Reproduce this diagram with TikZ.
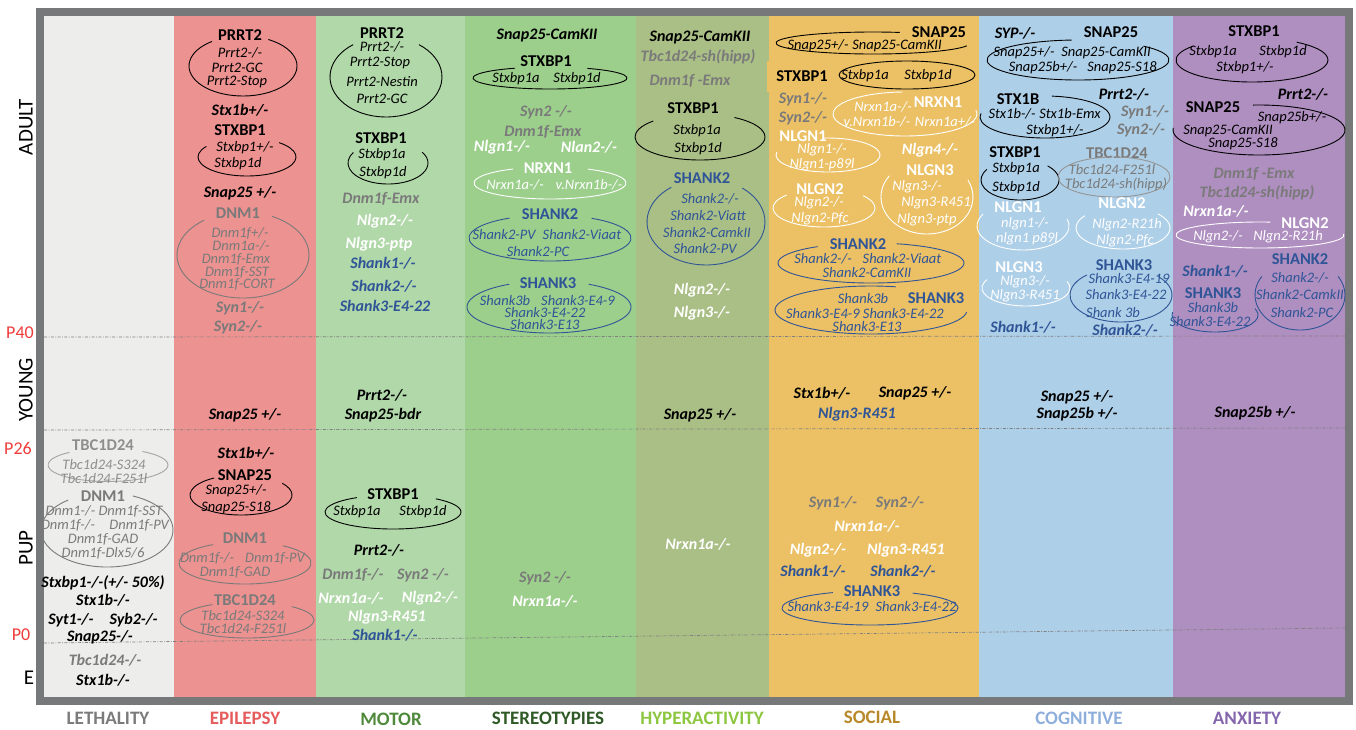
\documentclass[tikz,border=0pt]{standalone}
\usepackage{fontspec}
\setmainfont{Carlito}
\definecolor{framegray}{HTML}{77787A}
\definecolor{leth}{HTML}{EDEEEC}
\definecolor{epi}{HTML}{EC9290}
\definecolor{mot}{HTML}{B1D8A9}
\definecolor{ster}{HTML}{9CCF8C}
\definecolor{hyp}{HTML}{AABF86}
\definecolor{soc}{HTML}{ECC166}
\definecolor{cog}{HTML}{AECFE8}
\definecolor{anx}{HTML}{AF8EC0}
\definecolor{gtxt}{HTML}{7A7A7A}
\definecolor{ltxt}{HTML}{8E8E8E}
\definecolor{btxt}{HTML}{2F5597}
\definecolor{agered}{HTML}{EE3B3B}
\definecolor{lethc}{HTML}{7B7B7B}
\definecolor{epic}{HTML}{E65C5C}
\definecolor{motc}{HTML}{4F8A3C}
\definecolor{sterc}{HTML}{2F5A27}
\definecolor{hypc}{HTML}{8DC63F}
\definecolor{socc}{HTML}{B8892A}
\definecolor{cogc}{HTML}{8EAEDB}
\definecolor{anxc}{HTML}{8466AD}
\tikzset{
  gene/.style = {font=\fontsize{16}{18}\selectfont\bfseries\itshape, inner sep=0pt},
  prot/.style = {font=\fontsize{16.5}{18}\selectfont\bfseries, inner sep=0pt},
  item/.style = {font=\fontsize{14.5}{16}\selectfont\itshape, inner sep=0pt},
  ovl/.style = {line width=0.9pt},
  stage/.style = {dash pattern=on 3pt off 1.5pt on 0.8pt off 1.5pt, gray, line width=0.7pt},
  cat/.style = {font=\fontsize{19}{21}\selectfont\bfseries, inner sep=0pt},
  agelbl/.style = {font=\fontsize{21}{23}\selectfont, rotate=90, inner sep=0pt},
  pday/.style = {font=\fontsize{18}{20}\selectfont, text=agered, inner sep=0pt}
}
% open ellipse: [colour]{centre}{x radius}{y radius}{start}{end}
\newcommand\ovalarc[6][black]{%
  \draw[ovl,#1] (#2) ++(#5:#3 and #4) arc[start angle=#5, end angle=#6, x radius=#3, y radius=#4];}

\begin{document}
\begin{tikzpicture}[x=1pt,y=1pt]
  \useasboundingbox (0,0) rectangle (1356,-729);
  % columns
  \fill[leth] (44,-16) rectangle (174,-697);
  \fill[epi]  (174,-16) rectangle (316,-697);
  \fill[mot]  (316,-16) rectangle (465,-697);
  \fill[ster] (465,-16) rectangle (636,-697);
  \fill[hyp]  (636,-16) rectangle (769,-697);
  \fill[soc]  (769,-16) rectangle (979,-697);
  \fill[cog]  (979,-16) rectangle (1173,-697);
  \fill[anx]  (1173,-16) rectangle (1345,-697);
  % stages
  \draw[stage] (44,-337) -- (1345,-336);
  \draw[stage] (44,-430) -- (1345,-428);
  \draw[stage] (44,-643) -- (1345,-628);
  \draw[framegray, line width=8pt] (40,-12) rectangle (1349,-701);

  \node[agelbl] (adult) at (26,-127) {ADULT};
  \node[agelbl] (young) at (26,-390) {YOUNG};
  \node[agelbl] (pup) at (26,-548) {PUP};
  \node[font=\fontsize{21}{23}\selectfont, inner sep=0pt] (emb) at (29,-678) {E};
  \node[pday] (p40) at (20,-333) {P40};
  \node[pday] (p26) at (18,-448) {P26};
  \node[pday] (p0) at (21,-635) {P0};

  % lethality
  \node[prot,ltxt] (lTBC) at (103,-445) {TBC1D24};
  \ovalarc[ltxt!80]{108,-465}{60}{16.5}{130}{415}
  \node[item,ltxt] (lTBCa) at (104,-465) {Tbc1d24-S324};
  \node[item,ltxt] (lTBCb) at (104,-479) {Tbc1d24-F251l};
  \node[prot,gtxt] (lDNM) at (103,-496) {DNM1};
  \ovalarc[gtxt]{107,-530}{66}{37}{126}{427}
  \node[item,gtxt] (lDNMa) at (104,-511) {Dnm1-/- Dnm1f-SST};
  \node[item,gtxt] (lDNMb) at (105,-525) {Dnm1f-/-\quad Dnm1f-PV};
  \node[item,gtxt] (lDNMc) at (103,-539) {Dnm1f-GAD};
  \node[item,gtxt] (lDNMd) at (103,-553) {Dnm1f-Dlx5/6};
  \node[gene] (lStxbp) at (103,-583) {Stxbp1-/-(+/- 50\%)};
  \node[gene] (lStx) at (103,-600) {Stx1b-/-};
  \node[gene] (lSyt) at (103,-620) {Syt1-/-\quad Syb2-/-};
  \node[gene] (lSnap) at (100,-637) {Snap25-/-};
  \node[gene,gtxt] (lTbc) at (105,-660) {Tbc1d24-/-};
  \node[gene] (lStxE) at (103,-680) {Stx1b-/-};

  % epilepsy
  \node[prot] (eP) at (240,-35) {PRRT2};
  \ovalarc{243,-66}{54}{30}{125}{422}
  \node[item] (ePa) at (240,-53) {Prrt2-/-};
  \node[item] (ePb) at (237,-68) {Prrt2-GC};
  \node[item] (ePc) at (237,-82) {Prrt2-Stop};
  \node[gene] (eStx) at (240,-110) {Stx1b+/-};
  \node[prot] (eS) at (240,-130) {STXBP1};
  \ovalarc{247,-157}{49}{19}{146}{409}
  \node[item] (eSa) at (245,-148) {Stxbp1+/-};
  \node[item] (eSb) at (238,-164) {Stxbp1d};
  \node[gene] (eSnap) at (240,-193) {Snap25 +/-};
  \node[prot,gtxt] (eD) at (238,-213) {DNM1};
  \ovalarc[gtxt]{243,-255}{66}{43}{126}{424}
  \node[item,gtxt] (eDa) at (240,-233) {Dnm1f+/-};
  \node[item,gtxt] (eDb) at (241,-246) {Dnm1a-/-};
  \node[item,gtxt] (eDc) at (236,-259) {Dnm1f-Emx};
  \node[item,gtxt] (eDd) at (237,-272) {Dnm1f-SST};
  \node[item,gtxt] (eDe) at (237,-284) {Dnm1f-CORT};
  \node[gene,gtxt] (eSyn1) at (240,-308) {Syn1-/-};
  \node[gene,gtxt] (eSyn2) at (238,-327) {Syn2-/-};
  \node[gene] (eSnapY) at (245,-415) {Snap25 +/-};
  \node[gene] (eStxP) at (246,-453) {Stx1b+/-};
  \node[prot] (eN) at (245,-475) {SNAP25};
  \ovalarc{241,-495}{51}{20}{122}{396}
  \node[item] (eNa) at (236,-491) {Snap25+/-};
  \node[item] (eNb) at (236,-508) {Snap25-S18};
  \node[prot,gtxt] (eDP) at (245,-538) {DNM1};
  \ovalarc[gtxt]{245,-563}{66}{21}{119}{415}
  \node[item,gtxt] (eDPa) at (207,-558) {Dnm1f-/-};
  \node[item,gtxt] (eDPb) at (275,-558) {Dnm1f-PV};
  \node[item,gtxt] (eDPc) at (235,-572) {Dnm1f-GAD};
  \node[prot,gtxt] (eT) at (245,-600) {TBC1D24};
  \ovalarc[gtxt]{247,-620}{67}{18}{121}{408}
  \node[item,gtxt] (eTa) at (243,-616) {Tbc1d24-S324};
  \node[item,gtxt] (eTb) at (243,-629) {Tbc1d24-F251l};

  % motor
  \node[prot] (mP) at (382,-33) {PRRT2};
  \ovalarc{386,-77}{56}{40}{126}{414}
  \node[item] (mPa) at (382,-47) {Prrt2-/-};
  \node[item] (mPb) at (380,-63) {Prrt2-Stop};
  \node[item] (mPc) at (382,-82) {Prrt2-Nestin};
  \node[item] (mPd) at (382,-99) {Prrt2-GC};
  \node[prot] (mS) at (381,-138) {STXBP1};
  \ovalarc{388,-163}{40}{21}{150}{391}
  \node[item] (mSa) at (382,-155) {Stxbp1a};
  \node[item] (mSb) at (383,-173) {Stxbp1d};
  \node[gene,gtxt] (mDnm) at (381,-199) {Dnm1f-Emx};
  \node[gene,white] (mNl2) at (385,-221) {Nlgn2-/-};
  \node[gene,white] (mNl3) at (379,-244) {Nlgn3-ptp};
  \node[gene,btxt] (mSh1) at (383,-263) {Shank1-/-};
  \node[gene,btxt] (mSh2) at (384,-286) {Shank2-/-};
  \node[gene,btxt] (mSh3) at (385,-306) {Shank3-E4-22};
  \node[gene] (mPY) at (382,-395) {Prrt2-/-};
  \node[gene] (mSnY) at (383,-415) {Snap25-bdr};
  \node[prot] (mSP) at (393,-494) {STXBP1};
  \ovalarc{393,-512}{68}{17}{122}{411}
  \node[item] (mSPa) at (357,-512) {Stxbp1a};
  \node[item] (mSPb) at (423,-512) {Stxbp1d};
  \node[gene] (mPP) at (379,-550) {Prrt2-/-};
  \node[gene,gtxt] (mDP) at (353,-575) {Dnm1f-/-};
  \node[gene,gtxt] (mSynP) at (423,-575) {Syn2 -/-};
  \node[gene,white] (mNxP) at (351,-598) {Nrxn1a-/-};
  \node[gene,white] (mNl2P) at (430,-598) {Nlgn2-/-};
  \node[gene,white] (mNl3P) at (387,-617) {Nlgn3-R451};
  \node[gene,btxt] (mSh1P) at (385,-635) {Shank1-/-};

  % stereotypies
  \node[gene] (sSnap) at (547,-36) {Snap25-CamKII};
  \node[prot] (sS) at (546,-61) {STXBP1};
  \ovalarc{550,-78}{77}{11}{117}{421}
  \node[item] (sSa) at (516,-79) {Stxbp1a};
  \node[item] (sSb) at (577,-79) {Stxbp1d};
  \node[gene,gtxt] (sSyn) at (546,-112) {Syn2 -/-};
  \node[gene,gtxt] (sDnm) at (543,-132) {Dnm1f-Emx};
  \node[gene,white] (sNl1) at (502,-147) {Nlgn1-/-};
  \node[gene,white] (sNl2) at (589,-147) {Nlan2-/-};
  \node[prot,white] (sNx) at (548,-168) {NRXN1};
  \ovalarc[white]{550,-183}{76}{16}{119}{420}
  \node[item,white] (sNxa) at (515,-185) {Nrxn1a-/-};
  \node[item,white] (sNxb) at (589,-185) {v.Nrxn1b-/-};
  \node[prot,btxt] (sSh2) at (550,-214) {SHANK2};
  \ovalarc[btxt]{550,-238}{81}{23}{120}{419}
  \node[item,btxt] (sSh2a) at (504,-235) {Shank2-PV};
  \node[item,btxt] (sSh2b) at (582,-235) {Shank2-Viaat};
  \node[item,btxt] (sSh2c) at (538,-252) {Shank2-PC};
  \node[prot,btxt] (sSh3) at (548,-283) {SHANK3};
  \ovalarc[btxt]{549,-307}{82}{26}{119}{421}
  \node[item,btxt] (sSh3a) at (505,-301) {Shank3b};
  \node[item,btxt] (sSh3b) at (578,-301) {Shank3-E4-9};
  \node[item,btxt] (sSh3c) at (545,-313) {Shank3-E4-22};
  \node[item,btxt] (sSh3d) at (545,-325) {Shank3-E13};
  \node[gene,gtxt] (sSynP) at (545,-578) {Syn2 -/-};
  \node[gene,white] (sNxP) at (545,-601) {Nrxn1a-/-};

  % hyperactivity
  \node[gene] (hSnap) at (700,-38) {Snap25-CamKII};
  \node[gene,gtxt] (hTbc) at (698,-57) {Tbc1d24-sh(hipp)};
  \node[gene,gtxt] (hDnm) at (690,-81) {Dnm1f -Emx};
  \node[prot] (hS) at (693,-108) {STXBP1};
  \ovalarc{700,-137}{65}{23}{136}{418}
  \node[item] (hSa) at (697,-131) {Stxbp1a};
  \node[item] (hSb) at (698,-149) {Stxbp1d};
  \node[prot,btxt] (hSh2) at (702,-178) {SHANK2};
  \ovalarc[btxt]{706,-222}{59}{43}{126}{412}
  \node[item,btxt] (hSh2a) at (710,-199) {Shank2-/-};
  \node[item,btxt] (hSh2b) at (708,-216) {Shank2-Viatt};
  \node[item,btxt] (hSh2c) at (707,-233) {Shank2-CamkII};
  \node[item,btxt] (hSh2d) at (705,-249) {Shank2-PV};
  \node[gene,white] (hNl2) at (702,-290) {Nlgn2-/-};
  \node[gene,white] (hNl3) at (702,-313) {Nlgn3-/-};
  \node[gene] (hSnapY) at (700,-415) {Snap25 +/-};
  \node[gene,white] (hNxP) at (698,-544) {Nrxn1a-/-};

  % social
  \node[prot] (oN) at (939,-32) {SNAP25};
  \ovalarc{873,-43}{97}{11}{74}{345}
  \node[item] (oNa) at (818,-46) {Snap25+/-};
  \node[item] (oNb) at (897,-46) {Snap25-CamKII};
  \ovalarc{907,-75}{68}{14}{0}{360}
  \node[prot, fill=soc, minimum width=70pt, minimum height=31pt] (oS) at (802,-76) {STXBP1};
  \node[item] (oSa) at (865,-76) {Stxbp1a};
  \node[item] (oSb) at (928,-76) {Stxbp1d};
  \node[gene,gtxt] (oSyn1) at (803,-99) {Syn1-/-};
  \node[gene,gtxt] (oSyn2) at (803,-118) {Syn2-/-};
  \node[prot,white] (oNx) at (938,-102) {NRXN1};
  \ovalarc[white]{905,-114}{72}{22}{92}{370}
  \node[item,white] (oNxa) at (883,-107) {Nrxn1a-/-};
  \node[item,white] (oNxb) at (877,-122) {v.Nrxn1b-/-};
  \node[item,white] (oNxc) at (945,-122) {Nrxn1a+/-};
  \node[prot,white] (oNl1) at (803,-136) {NLGN1};
  \ovalarc[white]{828,-155}{52}{17}{170}{455}
  \node[item,white] (oNl1a) at (822,-150) {Nlgn1-/-};
  \node[item,white] (oNl1b) at (822,-165) {Nlgn1-p89l};
  \node[gene,white] (oNl4) at (930,-150) {Nlgn4-/-};
  \node[prot,white] (oNl2) at (820,-189) {NLGN2};
  \ovalarc[white]{824,-208}{51}{19}{137}{400}
  \node[item,white] (oNl2a) at (819,-203) {Nlgn2-/-};
  \node[item,white] (oNl2b) at (820,-219) {Nlgn2-Pfc};
  \node[prot,white] (oNl3) at (930,-170) {NLGN3};
  \ovalarc[white]{927,-197}{46}{37}{145}{387}
  \node[item,white] (oNl3a) at (917,-187) {Nlgn3-/-};
  \node[item,white] (oNl3b) at (936,-203) {Nlgn3-R451};
  \node[item,white] (oNl3c) at (927,-220) {Nlgn3-ptp};
  \node[prot,btxt] (oSh2) at (858,-244) {SHANK2};
  \ovalarc[btxt]{871,-263}{93}{20}{125}{434}
  \node[item,btxt] (oSh2a) at (823,-259) {Shank2-/-};
  \node[item,btxt] (oSh2b) at (902,-259) {Shank2-Viaat};
  \node[item,btxt] (oSh2c) at (867,-273) {Shank2-CamKII};
  \node[prot,btxt] (oSh3) at (936,-298) {SHANK3};
  \ovalarc[btxt]{871,-310}{96}{24}{75}{355}
  \node[item,btxt] (oSh3a) at (863,-299) {Shank3b};
  \node[item,btxt] (oSh3b) at (865,-314) {Shank3-E4-9 Shank3-E4-22};
  \node[item,btxt] (oSh3c) at (867,-327) {Shank3-E13};
  \node[gene] (oStxY) at (822,-393) {Stx1b+/-};
  \node[gene] (oSnapY) at (915,-393) {Snap25 +/-};
  \node[gene,btxt] (oNl3Y) at (857,-414) {Nlgn3-R451};
  \node[gene,gtxt] (oSyn1P) at (833,-503) {Syn1-/-};
  \node[gene,gtxt] (oSyn2P) at (900,-503) {Syn2-/-};
  \node[gene,white] (oNxP) at (867,-526) {Nrxn1a-/-};
  \node[gene,white] (oNl2P) at (818,-550) {Nlgn2-/-};
  \node[gene,white] (oNl3P) at (906,-550) {Nlgn3-R451};
  \node[gene,btxt] (oSh1P) at (813,-571) {Shank1-/-};
  \node[gene,btxt] (oSh2P) at (903,-571) {Shank2-/-};
  \node[prot,btxt] (oSh3P) at (872,-591) {SHANK3};
  \ovalarc[btxt]{870,-608}{88}{17}{115}{421}
  \node[item,btxt] (oSh3Pa) at (828,-607) {Shank3-E4-19};
  \node[item,btxt] (oSh3Pb) at (916,-607) {Shank3-E4-22};

  % cognitive
  \node[gene] (cSyp) at (1015,-33) {SYP-/-};
  \node[prot] (cN) at (1111,-32) {SNAP25};
  \ovalarc{1078,-60}{91}{20}{94}{404}
  \node[item] (cNa) at (1024,-53) {Snap25+/-};
  \node[item] (cNb) at (1106,-53) {Snap25-CamKII};
  \node[item] (cNc) at (1043,-68) {Snap25b+/-};
  \node[item] (cNd) at (1122,-68) {Snap25-S18};
  \node[prot] (cX) at (1018,-99) {STX1B};
  \ovalarc{1045,-117}{65}{21}{170}{444}
  \node[item] (cXa) at (1012,-114) {Stx1b-/-};
  \node[item] (cXb) at (1070,-114) {Stx1b-Emx};
  \node[item] (cXc) at (1055,-131) {Stxbp1+/-};
  \node[gene] (cPrrt) at (1124,-94) {Prrt2-/-};
  \node[gene,gtxt] (cSyn1) at (1145,-112) {Syn1-/-};
  \node[gene,gtxt] (cSyn2) at (1141,-130) {Syn2-/-};
  \node[prot] (cS) at (1015,-152) {STXBP1};
  \ovalarc{1020,-180}{39}{20}{148}{405}
  \node[item] (cSa) at (1016,-169) {Stxbp1a};
  \node[item] (cSb) at (1016,-188) {Stxbp1d};
  \node[prot,gtxt] (cT) at (1117,-153) {TBC1D24};
  \ovalarc[gtxt!80]{1114,-177}{56}{20}{0}{360}
  \node[item,gtxt] (cTa) at (1112,-170) {Tbc1d24-F251l};
  \node[item,gtxt] (cTb) at (1116,-184) {Tbc1d24-sh(hipp)};
  \node[prot,white] (cL1) at (1018,-207) {NLGN1};
  \ovalarc[white]{1023,-226}{46}{24}{150}{377}
  \node[item,white] (cL1a) at (1025,-224) {nlgn1-/-};
  \node[item,white] (cL1b) at (1027,-239) {nlgn1 p89l};
  \node[prot,white] (cL2) at (1122,-203) {NLGN2};
  \ovalarc[white]{1123,-228}{47}{21}{144}{402}
  \node[item,white] (cL2a) at (1127,-225) {Nlgn2-R21h};
  \node[item,white] (cL2b) at (1125,-241) {Nlgn2-Pfc};
  \node[prot,white] (cL3) at (1019,-267) {NLGN3};
  \ovalarc[white]{1026,-288}{44}{18}{152}{381}
  \node[item,white] (cL3a) at (1025,-282) {Nlgn3-/-};
  \node[item,white] (cL3b) at (1025,-296) {Nlgn3-R451};
  \node[prot,btxt] (cH3) at (1124,-265) {SHANK3};
  \ovalarc[btxt]{1121,-295}{51}{27}{132}{403}
  \node[item,btxt] (cH3a) at (1129,-279) {Shank3-E4-19};
  \node[item,btxt] (cH3b) at (1126,-295) {Shank3-E4-22};
  \node[item,btxt] (cH3c) at (1113,-313) {Shank 3b};
  \node[gene,btxt] (cH1) at (1023,-327) {Shank1-/-};
  \node[gene,btxt] (cH2) at (1125,-330) {Shank2-/-};
  \node[gene] (cSnapY) at (1077,-397) {Snap25 +/-};
  \node[gene] (cSnapbY) at (1077,-414) {Snap25b +/-};

  % anxiety
  \node[prot] (aS) at (1254,-31) {STXBP1};
  \ovalarc{1252,-60}{76}{22}{141}{414}
  \node[item] (aSa) at (1213,-52) {Stxbp1a};
  \node[item] (aSb) at (1283,-52) {Stxbp1d};
  \node[item] (aSc) at (1245,-68) {Stxbp1+/-};
  \node[gene] (aPrrt) at (1303,-94) {Prrt2-/-};
  \node[prot] (aN) at (1213,-107) {SNAP25};
  \ovalarc{1259,-130}{86}{25}{175}{454}
  \node[item] (aNa) at (1292,-118) {Snap25b+/-};
  \node[item] (aNb) at (1228,-131) {Snap25-CamKII};
  \node[item] (aNc) at (1243,-144) {Snap25-S18};
  \node[gene,gtxt] (aDnm) at (1254,-174) {Dnm1f -Emx};
  \node[gene,gtxt] (aTbc) at (1257,-193) {Tbc1d24-sh(hipp)};
  \node[gene,white] (aNx) at (1216,-211) {Nrxn1a-/-};
  \node[prot,white] (aL2) at (1305,-223) {NLGN2};
  \ovalarc[white]{1260,-235}{84}{13}{83}{365}
  \node[item,white] (aL2a) at (1218,-237) {Nlgn2-/-};
  \node[item,white] (aL2b) at (1288,-237) {Nlgn2-R21h};
  \node[prot,btxt] (aH2) at (1300,-259) {SHANK2};
  \ovalarc[btxt]{1300,-295}{45}{35}{148}{392}
  \node[item,btxt] (aH2a) at (1300,-278) {Shank2-/-};
  \node[item,btxt] (aH2b) at (1300,-295) {Shank2-CamkII};
  \node[item,btxt] (aH2c) at (1302,-313) {Shank2-PC};
  \node[gene,btxt] (aH1) at (1215,-271) {Shank1-/-};
  \node[prot,btxt] (aH3) at (1213,-293) {SHANK3};
  \ovalarc[btxt]{1215,-315}{43}{17}{170}{382}
  \node[item,btxt] (aH3a) at (1213,-308) {Shank3b};
  \node[item,btxt] (aH3b) at (1210,-322) {Shank3-E4-22};
  \node[gene] (aSnapY) at (1255,-413) {Snap25b +/-};

  % categories
  \node[cat,text=lethc] (catLeth) at (108,-718) {LETHALITY};
  \node[cat,text=epic] (catEpi) at (245,-718) {EPILEPSY};
  \node[cat,text=motc] (catMot) at (391,-719) {MOTOR};
  \node[cat,text=sterc] (catSter) at (548,-718) {STEREOTYPIES};
  \node[cat,text=hypc] (catHyp) at (702,-718) {HYPERACTIVITY};
  \node[cat,text=socc] (catSoc) at (872,-717) {SOCIAL};
  \node[cat,text=cogc] (catCog) at (1079,-718) {COGNITIVE};
  \node[cat,text=anxc] (catAnx) at (1247,-718) {ANXIETY};
\end{tikzpicture}
\end{document}
